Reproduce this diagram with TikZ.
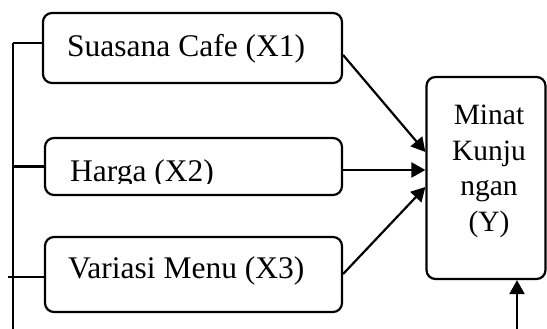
\documentclass[tikz,border=0pt]{standalone}
\usepackage{fontspec}
\setmainfont{Liberation Serif}
\usetikzlibrary{arrows.meta,calc}
\tikzset{
  varbox/.style={draw, line width=2.2pt, rounded corners=9pt, inner sep=0pt},
  varlabel/.style={inner sep=0pt, anchor=base west, font=\fontsize{31.5}{34}\selectfont},
  link/.style={line width=2.2pt},
  arr/.style={link, -{Triangle[length=14pt,width=15pt]}},
}
\begin{document}
\begin{tikzpicture}[x=1pt,y=-1pt]
\useasboundingbox (0,0) rectangle (547,329);
% independent variables
\node[varbox, minimum width=299pt, minimum height=70pt] (b1) at (192.5,48) {};
\node[varlabel] (t1) at (67,57) {Suasana Cafe (X1)};
\node[varbox, minimum width=297pt, minimum height=57pt] (b2) at (193.5,166.5) {};
\begin{scope}
  \clip (46,139) rectangle (341,183.5);
  \node[varlabel] (t2) at (70,182) {Harga (X2)};
\end{scope}
\node[varbox, minimum width=297pt, minimum height=75pt] (b3) at (193.5,274.5) {};
\node[varlabel] (t3) at (68,278) {Variasi Menu (X3)};
% dependent variable
\node[varbox, minimum width=119pt, minimum height=202pt] (y) at (486,178) {};
\node[inner sep=0pt, anchor=north, align=center, font=\fontsize{29.5}{35.5}\selectfont]
  (yt) at (489,105) {Minat\\Kunju\\ngan\\(Y)};
% bracket on the left
\coordinate (top) at (13,43);
\coordinate (bot) at (13,329);
\coordinate (s3) at (8,277);
\draw[link] (top) -- (bot);
\draw[link] (top) -- (top -| b1.west);
\draw[link] (b2.west -| top) -- (b2.west);
\draw[link] (s3) -- (s3 -| b3.west);
% arrows into Y
\draw[arr] ($(b1.east)+(0,7)$) -- ($(y.west)+(0,-26)$);
\draw[arr] ($(b2.east)+(0,3.5)$) -- ($(y.west)+(0,-8)$);
\draw[arr] ($(b3.east)+(0,-0.5)$) -- ($(y.west)+(0,9)$);
\coordinate (e) at (517,329);
\draw[arr] (e) -- (e |- y.south);
\end{tikzpicture}
\end{document}
